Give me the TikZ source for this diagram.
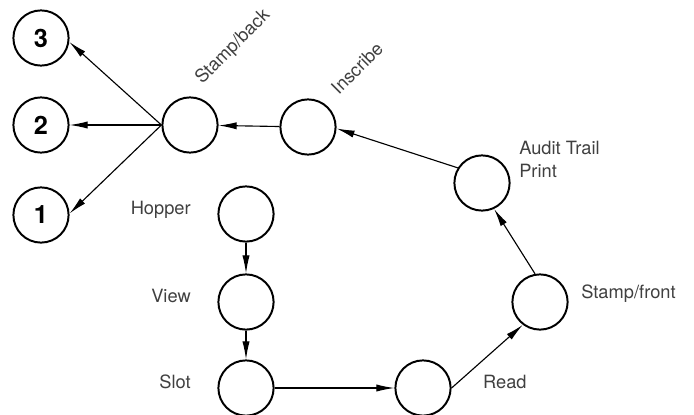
\documentclass[tikz,border=0pt]{standalone}
\usepackage{fontspec}
\setmainfont{TeX Gyre Heros}
\usetikzlibrary{arrows.meta}
\tikzset{
  stn/.style={circle, draw, line width=1.4pt, minimum size=1.38cm, inner sep=0pt},
  num/.style={stn, font=\bfseries\fontsize{18}{20}\selectfont},
  lbl/.style={inner sep=0pt, text=black!75, font=\fontsize{13}{16.4}\selectfont},
  arr/.style={-{Latex[length=4.5mm,width=1.8mm]}, line width=0.8pt}
}
\begin{document}
\begin{tikzpicture}[x=0.025cm, y=-0.025cm]
  \useasboundingbox (0,0) rectangle (694,414);
  % stations (pixel grid, y downward)
  \node[stn] (hp) at (246,214) {};
  \node[stn] (vw) at (246,302) {};
  \node[stn] (sl) at (246,388) {};
  \node[stn] (rd) at (423,388) {};
  \node[stn] (sf) at (540,302) {};
  \node[stn] (au) at (482,183) {};
  \node[stn] (in) at (308,127) {};
  \node[stn] (sb) at (190,125) {};
  % output pockets
  \node[num] (n3) at (41,38) {3};
  \node[num] (n2) at (41,125) {2};
  \node[num] (n1) at (41,215) {1};
  % labels
  \node[lbl, anchor=base east] (hpl) at ([xshift=-6.6mm]hp.west) {Hopper};
  \node[lbl, anchor=base east] (vwl) at ([xshift=-6.6mm]vw.west) {View};
  \node[lbl, anchor=base east] (sll) at ([xshift=-6.6mm]sl.west) {Slot};
  \node[lbl, anchor=base west] (rdl) at ([xshift=7.8mm]rd.east) {Read};
  \node[lbl, anchor=base west] (sfl) at ([xshift=3.1mm,yshift=1mm]sf.east) {Stamp/front};
  \node[lbl, anchor=west, align=left] (aul) at ([xshift=2.1mm,yshift=6mm]au.east) {Audit Trail\\Print};
  \node[lbl, rotate=45] (inl) at (357,68) {Inscribe};
  \node[lbl, rotate=45] (sbl) at (233,47) {Stamp/back};
  % document path
  \draw[arr] (hp) -- (vw);
  \draw[arr] (vw) -- (sl);
  \draw[arr] (sl) -- (rd);
  \draw[arr] (rd.east) -- (sf.-127);
  \draw[arr] (sf.100) -- (au.-65);
  \draw[arr] (au.148) -- (in.-3);
  \draw[arr] (in) -- (sb);
  \foreach \n/\a in {n3/-8,n2/0,n1/3}
    \draw[arr] (sb.west) -- (\n.\a);
\end{tikzpicture}
\end{document}
